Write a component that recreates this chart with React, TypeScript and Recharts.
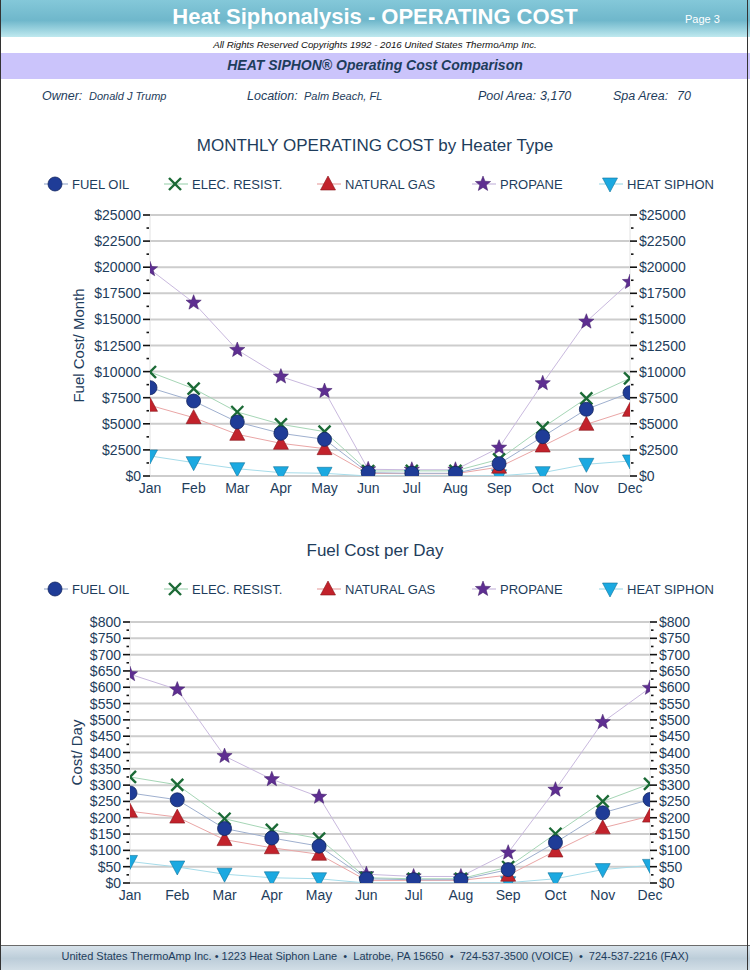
import React from 'react'
import { LineChart, Line, XAxis, YAxis, CartesianGrid } from 'recharts'

const MONTHS = ['Jan', 'Feb', 'Mar', 'Apr', 'May', 'Jun', 'Jul', 'Aug', 'Sep', 'Oct', 'Nov', 'Dec']

// monthly operating cost ($ / month)
const MONTH_FUEL_OIL = [8460, 7180, 5170, 4090, 3510, 320, 260, 260, 1180, 3770, 6390, 7980]
const MONTH_ELEC = [9960, 8370, 6130, 4950, 4250, 480, 490, 490, 1600, 4630, 7440, 9360]
const MONTH_NAT_GAS = [6770, 5590, 3990, 3130, 2620, 250, 220, 220, 850, 2870, 4950, 6290]
const MONTH_PROPANE = [19800, 16600, 12070, 9520, 8140, 640, 600, 600, 2710, 8880, 14780, 18580]
const MONTH_SIPHON = [1920, 1280, 700, 320, 260, 0, 0, 0, 20, 320, 1120, 1440]

// fuel cost per day ($ / day)
const DAY_FUEL_OIL = [276, 255, 167, 138, 113, 13, 10, 10, 41, 124, 215, 256]
const DAY_ELEC = [325, 301, 197, 163, 136, 16, 13, 13, 49, 151, 250, 304]
const DAY_NAT_GAS = [220, 202, 133, 108, 88, 8, 8, 8, 24, 98, 169, 205]
const DAY_PROPANE = [640, 593, 389, 318, 264, 27, 20, 20, 93, 286, 493, 598]
const DAY_SIPHON = [66, 49, 27, 16, 13, 0, 0, 0, 1, 13, 41, 54]

const MONTH_TICKS = Array.from({ length: 21 }, (_, i) => i * 1250)
const MONTH_GRID = Array.from({ length: 11 }, (_, i) => i * 2500)
const DAY_TICKS = Array.from({ length: 33 }, (_, i) => i * 25)
const DAY_GRID = Array.from({ length: 17 }, (_, i) => i * 50)

const SERIES = [
  { key: 'fuelOil', name: 'FUEL OIL', line: '#9fb0cf', shape: 'circle' },
  { key: 'elec', name: 'ELEC. RESIST.', line: '#a6d6b6', shape: 'x' },
  { key: 'natGas', name: 'NATURAL GAS', line: '#eaa6a6', shape: 'triangle' },
  { key: 'propane', name: 'PROPANE', line: '#c9b9de', shape: 'star' },
  { key: 'siphon', name: 'HEAT SIPHON', line: '#a6dcea', shape: 'down' },
]
// draw order: circles end up on top
const DRAW_ORDER = ['siphon', 'propane', 'natGas', 'elec', 'fuelOil']

const TEXT = '#1e3d5c'
const FONT = '"Liberation Sans", Arial, Helvetica, sans-serif'

const monthData = MONTHS.map((m, i) => ({
  month: m,
  fuelOil: MONTH_FUEL_OIL[i],
  elec: MONTH_ELEC[i],
  natGas: MONTH_NAT_GAS[i],
  propane: MONTH_PROPANE[i],
  siphon: MONTH_SIPHON[i],
}))

const dayData = MONTHS.map((m, i) => ({
  month: m,
  fuelOil: DAY_FUEL_OIL[i],
  elec: DAY_ELEC[i],
  natGas: DAY_NAT_GAS[i],
  propane: DAY_PROPANE[i],
  siphon: DAY_SIPHON[i],
}))

function starPoints(cx: number, cy: number, ro: number, ri: number) {
  const pts: string[] = []
  for (let i = 0; i < 10; i++) {
    const r = i % 2 === 0 ? ro : ri
    const a = -Math.PI / 2 + (i * Math.PI) / 5
    pts.push(`${cx + r * Math.cos(a)},${cy + r * Math.sin(a)}`)
  }
  return pts.join(' ')
}

function Marker({ shape, cx, cy }: { shape: string; cx: number; cy: number }) {
  switch (shape) {
    case 'circle':
      return <circle cx={cx} cy={cy} r={7} fill="#1f3c97" stroke="#132660" strokeWidth={0.8} />
    case 'x':
      return (
        <g stroke="#1b6a36" strokeWidth={2.4}>
          <line x1={cx - 6} y1={cy - 6} x2={cx + 6} y2={cy + 6} />
          <line x1={cx - 6} y1={cy + 6} x2={cx + 6} y2={cy - 6} />
        </g>
      )
    case 'triangle':
      return (
        <polygon
          points={`${cx},${cy - 8} ${cx - 7.5},${cy + 6} ${cx + 7.5},${cy + 6}`}
          fill="#c2222b"
          stroke="#861419"
          strokeWidth={0.6}
        />
      )
    case 'star':
      return <polygon points={starPoints(cx, cy, 8, 3.4)} fill="#5e2e91" stroke="#3f1c66" strokeWidth={0.5} />
    default:
      return (
        <polygon
          points={`${cx - 7.5},${cy - 6} ${cx + 7.5},${cy - 6} ${cx},${cy + 8}`}
          fill="#1ba9e1"
          stroke="#10739a"
          strokeWidth={0.6}
        />
      )
  }
}

// markers are clipped to the plot area, like the reference
const makeDot = (shape: string, clipId: string) => (props: any) => {
  const { cx, cy, index } = props
  if (cx == null || cy == null) return <g key={index} />
  return (
    <g key={`${shape}-${index}`} clipPath={`url(#${clipId})`}>
      <Marker shape={shape} cx={cx} cy={cy} />
    </g>
  )
}

const AxisTick = (props: any) => {
  const { x, y, payload, side, step } = props
  const major = payload.value % step === 0
  const dir = side === 'left' ? -1 : 1
  return (
    <g>
      {major ? (
        <line x1={x} x2={x + dir * 7} y1={y} y2={y} stroke="#111" strokeWidth={1.6} />
      ) : (
        <line x1={x + dir * 1} x2={x + dir * 3.5} y1={y} y2={y} stroke="#111" strokeWidth={1.6} />
      )}
      {major && (
        <text
          x={x + dir * 9}
          y={y}
          dy="0.36em"
          textAnchor={side === 'left' ? 'end' : 'start'}
          fill={TEXT}
          fontSize={14}
          fontFamily={FONT}
        >
          ${payload.value}
        </text>
      )}
    </g>
  )
}

function Legend({ top }: { top: number }) {
  const lefts = [44, 164, 317, 472, 599]
  return (
    <>
      {SERIES.map((s, i) => (
        <div key={s.key} style={{ position: 'absolute', left: lefts[i], top: top - 10, height: 20, display: 'flex', alignItems: 'center' }}>
          <svg width={24} height={20} style={{ display: 'block' }}>
            <line x1={0} x2={24} y1={10} y2={10} stroke={s.line} strokeWidth={1.2} />
            <Marker shape={s.shape} cx={11} cy={10} />
          </svg>
          <span style={{ marginLeft: 4, fontSize: 13, color: TEXT, whiteSpace: 'nowrap' }}>{s.name}</span>
        </div>
      ))}
    </>
  )
}

interface CostChartProps {
  data: any[]
  top: number
  width: number
  height: number
  margin: { top: number; right: number; bottom: number; left: number }
  max: number
  ticks: number[]
  grid: number[]
  step: number
  yLabel: string
  labelOffset: number
  clipId: string
}

function CostChart({ data, top, width, height, margin, max, ticks, grid, step, yLabel, labelOffset, clipId }: CostChartProps) {
  const plotX = margin.left + 100
  const plotY = margin.top
  const plotW = width - margin.left - margin.right - 200
  const plotH = height - margin.top - margin.bottom - 30
  return (
    <div style={{ position: 'absolute', left: 0, top }}>
      <svg width={0} height={0} style={{ position: 'absolute' }}>
        <defs>
          <clipPath id={clipId} clipPathUnits="userSpaceOnUse">
            <rect x={plotX} y={plotY - 1} width={plotW} height={plotH + 1} />
          </clipPath>
        </defs>
      </svg>
      <LineChart width={width} height={height} data={data} margin={margin}>
        <CartesianGrid yAxisId="left" vertical={false} horizontalValues={grid} stroke="#cdcdcd" strokeWidth={2} />
        <XAxis
          dataKey="month"
          height={30}
          axisLine={false}
          tickLine={false}
          tickSize={0}
          tickMargin={7}
          tick={{ fill: TEXT, fontSize: 14, fontFamily: FONT }}
          interval={0}
        />
        <YAxis
          yAxisId="left"
          width={100}
          domain={[0, max]}
          ticks={ticks}
          interval={0}
          allowDataOverflow
          tickSize={0}
          tickMargin={0}
          tickLine={false}
          axisLine={{ stroke: '#e2e2e2' }}
          tick={<AxisTick side="left" step={step} />}
          label={{
            content: ({ viewBox }: any) => {
              const cx = viewBox.x + labelOffset
              const cy = viewBox.y + viewBox.height / 2
              return (
                <text
                  x={cx}
                  y={cy}
                  transform={`rotate(-90 ${cx} ${cy})`}
                  textAnchor="middle"
                  dominantBaseline="central"
                  fill={TEXT}
                  fontSize={15}
                  fontFamily={FONT}
                >
                  {yLabel}
                </text>
              )
            },
          }}
        />
        <YAxis
          yAxisId="right"
          orientation="right"
          width={100}
          domain={[0, max]}
          ticks={ticks}
          interval={0}
          allowDataOverflow
          tickSize={0}
          tickMargin={0}
          tickLine={false}
          axisLine={{ stroke: '#e2e2e2' }}
          tick={<AxisTick side="right" step={step} />}
        />
        {DRAW_ORDER.map((k) => {
          const s = SERIES.find((x) => x.key === k)!
          return (
            <Line
              key={k}
              yAxisId="left"
              type="linear"
              dataKey={k}
              name={s.name}
              stroke={s.line}
              strokeWidth={1}
              dot={makeDot(s.shape, clipId)}
              activeDot={false}
              isAnimationActive={false}
            />
          )
        })}
      </LineChart>
    </div>
  )
}

export default function App() {
  return (
    <div
      style={{
        position: 'absolute',
        left: 0,
        top: 0,
        width: 750,
        height: 970,
        background: '#fff',
        fontFamily: FONT,
        color: TEXT,
        overflow: 'hidden',
      }}
    >
      {/* header band */}
      <div
        style={{
          position: 'absolute',
          left: 0,
          top: 0,
          width: 750,
          height: 37,
          background: 'linear-gradient(#84c8d9 0%, #6fb7cb 55%, #bfe9ef 100%)',
        }}
      />
      <div style={{ position: 'absolute', left: 0, top: 4, width: 750, textAlign: 'center', color: '#fff', fontWeight: 'bold', fontSize: 22 }}>
        Heat Siphonalysis - OPERATING COST
      </div>
      <div style={{ position: 'absolute', left: 685, top: 13, color: '#fff', fontSize: 11 }}>Page 3</div>

      <div style={{ position: 'absolute', left: 0, top: 39, width: 750, textAlign: 'center', fontSize: 9.7, fontStyle: 'italic', color: '#111' }}>
        All Rights Reserved Copyrights 1992 - 2016 United States ThermoAmp Inc.
      </div>

      {/* purple band */}
      <div style={{ position: 'absolute', left: 0, top: 53, width: 750, height: 26, background: '#cbc4fb' }} />
      <div style={{ position: 'absolute', left: 0, top: 57, width: 750, textAlign: 'center', fontSize: 14, fontWeight: 'bold', fontStyle: 'italic', color: TEXT }}>
        HEAT SIPHON® Operating Cost Comparison
      </div>

      {/* info row */}
      <div style={{ position: 'absolute', top: 89, left: 0, width: 750, fontStyle: 'italic', color: TEXT }}>
        <span style={{ position: 'absolute', left: 42, fontSize: 12.5 }}>Owner:</span>
        <span style={{ position: 'absolute', left: 89, top: 1, fontSize: 11 }}>Donald J Trump</span>
        <span style={{ position: 'absolute', left: 247, fontSize: 12.5 }}>Location:</span>
        <span style={{ position: 'absolute', left: 304, top: 1, fontSize: 11 }}>Palm Beach, FL</span>
        <span style={{ position: 'absolute', left: 478, fontSize: 12.5 }}>Pool Area:</span>
        <span style={{ position: 'absolute', left: 540, fontSize: 12.5 }}>3,170</span>
        <span style={{ position: 'absolute', left: 613, fontSize: 12.5 }}>Spa Area:</span>
        <span style={{ position: 'absolute', left: 677, fontSize: 12.5 }}>70</span>
      </div>

      {/* chart 1 */}
      <div style={{ position: 'absolute', left: 0, top: 136, width: 750, textAlign: 'center', fontSize: 17, color: TEXT }}>
        MONTHLY OPERATING COST by Heater Type
      </div>
      <Legend top={184} />
      <CostChart
        data={monthData}
        top={200}
        width={750}
        height={310}
        margin={{ top: 15, right: 20, bottom: 4, left: 50 }}
        max={25000}
        ticks={MONTH_TICKS}
        grid={MONTH_GRID}
        step={2500}
        yLabel="Fuel Cost/ Month"
        labelOffset={28}
        clipId="clip-month"
      />

      {/* chart 2 */}
      <div style={{ position: 'absolute', left: 0, top: 541, width: 750, textAlign: 'center', fontSize: 17, color: TEXT }}>
        Fuel Cost per Day
      </div>
      <Legend top={589} />
      <CostChart
        data={dayData}
        top={600}
        width={750}
        height={320}
        margin={{ top: 22, right: 0, bottom: 7, left: 30 }}
        max={800}
        ticks={DAY_TICKS}
        grid={DAY_GRID}
        step={50}
        yLabel="Cost/ Day"
        labelOffset={46}
        clipId="clip-day"
      />

      {/* footer */}
      <div
        style={{
          position: 'absolute',
          left: 0,
          top: 945,
          width: 750,
          height: 25,
          borderTop: '1px solid #6b6b6b',
          background: 'linear-gradient(#d7e2ea 0%, #bccdd9 50%, #d3dfe7 100%)',
        }}
      />
      <div style={{ position: 'absolute', left: 0, top: 950, width: 750, textAlign: 'center', fontSize: 11, color: TEXT, whiteSpace: 'pre' }}>
        {'United States ThermoAmp Inc. • 1223 Heat Siphon Lane  •  Latrobe, PA 15650  •  724-537-3500 (VOICE)  •  724-537-2216 (FAX)'}
      </div>

      {/* page frame */}
      <div
        style={{
          position: 'absolute',
          left: 0,
          top: 0,
          width: 746,
          height: 970,
          borderLeft: '1px solid #333',
          borderRight: '1px solid #333',
          pointerEvents: 'none',
        }}
      />
    </div>
  )
}
